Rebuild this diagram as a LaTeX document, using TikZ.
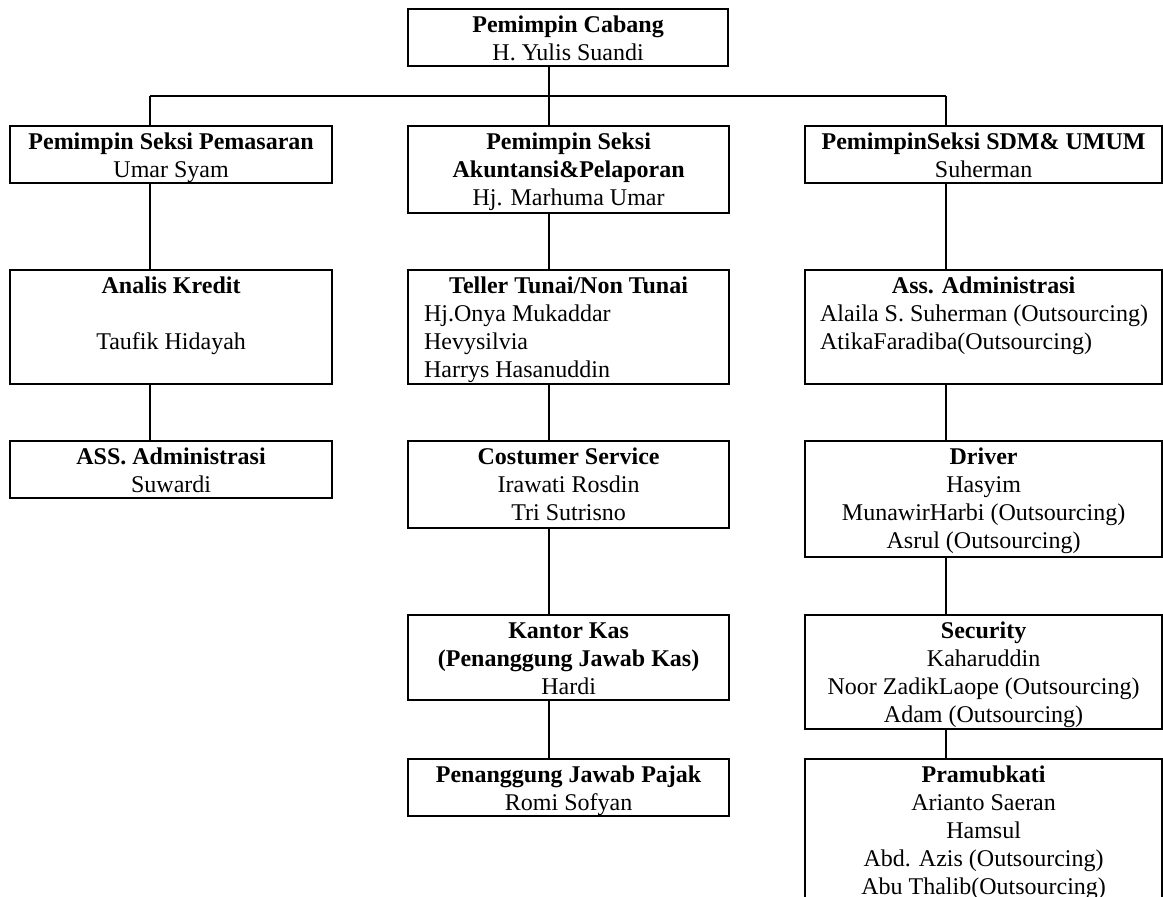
\documentclass[tikz,border=0pt]{standalone}
\usepackage{fontspec}
\setmainfont{Liberation Serif}
\newcommand{\cellbox}[3]{\parbox[c][#2][t]{#1}{\fontsize{24}{28}\selectfont\parindent=0pt\parskip=0pt\lineskiplimit=-20pt\centering\rule{0pt}{23.5pt}#3\par}}
\begin{document}
\begin{tikzpicture}[x=1pt,y=-1pt,
  orgbox/.style={draw, line width=2.2pt, inner sep=0pt, anchor=north west},
  link/.style={line width=2.2pt}]
\path[use as bounding box, clip] (0,0) rectangle (1163,897);
% top
\node[orgbox] (top) at (407,8) {\cellbox{320pt}{57pt}{\textbf{Pemimpin Cabang}\\H. Yulis Suandi}};
% left column
\node[orgbox] (L1) at (9,125) {\cellbox{322pt}{57pt}{\textbf{Pemimpin Seksi Pemasaran}\\Umar Syam}};
\node[orgbox] (L2) at (9,269) {\cellbox{322pt}{114pt}{\textbf{Analis Kredit}\\[28pt]Taufik Hidayah}};
\node[orgbox] (L3) at (9,440) {\cellbox{322pt}{57pt}{\textbf{ASS. Administrasi}\\Suwardi}};
% middle column
\node[orgbox] (M1) at (407,125) {\cellbox{321pt}{87pt}{\textbf{Pemimpin Seksi}\\\textbf{Akuntansi\&Pelaporan}\\Hj. Marhuma Umar}};
\node[orgbox] (M2) at (407,269) {\cellbox{321pt}{114pt}{\textbf{Teller Tunai/Non Tunai}\par\raggedright\leftskip=16pt Hj.Onya Mukaddar\par Hevysilvia\par Harrys Hasanuddin}};
\node[orgbox] (M3) at (407,440) {\cellbox{321pt}{87pt}{\textbf{Costumer Service}\\Irawati Rosdin\\Tri Sutrisno}};
\node[orgbox] (M4) at (407,614) {\cellbox{321pt}{85pt}{\textbf{Kantor Kas}\\\textbf{(Penanggung Jawab Kas)}\\Hardi}};
\node[orgbox] (M5) at (407,758) {\cellbox{321pt}{57pt}{\textbf{Penanggung Jawab Pajak}\\Romi Sofyan}};
% right column
\node[orgbox] (R1) at (804,125) {\cellbox{357pt}{57pt}{\textbf{PemimpinSeksi SDM\& UMUM}\\Suherman}};
\node[orgbox] (R2) at (804,269) {\cellbox{357pt}{114pt}{\textbf{Ass. Administrasi}\par\raggedright\leftskip=15pt Alaila S. Suherman (Outsourcing)\par AtikaFaradiba(Outsourcing)}};
\node[orgbox] (R3) at (804,440) {\cellbox{357pt}{116pt}{\textbf{Driver}\\Hasyim\\MunawirHarbi (Outsourcing)\\Asrul (Outsourcing)}};
\node[orgbox] (R4) at (804,614) {\cellbox{357pt}{114pt}{\textbf{Security}\\Kaharuddin\\Noor ZadikLaope (Outsourcing)\\Adam (Outsourcing)}};
\node[orgbox] (R5) at (804,758) {\cellbox{357pt}{160pt}{\textbf{Pramubkati}\\Arianto Saeran\\Hamsul\\Abd. Azis (Outsourcing)\\Abu Thalib(Outsourcing)}};
% bus
\coordinate (cL) at (150,96);
\coordinate (cM) at (549,96);
\coordinate (cR) at (946,96);
\draw[link] (top.south -| cM) -- (cM);
\draw[link] (cL) -- (cR);
\draw[link] (cL) -- (L1.north -| cL);
\draw[link] (cM) -- (M1.north -| cM);
\draw[link] (cR) -- (R1.north -| cR);
\draw[link] (L1.south -| cL) -- (L2.north -| cL);
\draw[link] (L2.south -| cL) -- (L3.north -| cL);
\draw[link] (M1.south -| cM) -- (M2.north -| cM);
\draw[link] (M2.south -| cM) -- (M3.north -| cM);
\draw[link] (M3.south -| cM) -- (M4.north -| cM);
\draw[link] (M4.south -| cM) -- (M5.north -| cM);
\draw[link] (R1.south -| cR) -- (R2.north -| cR);
\draw[link] (R2.south -| cR) -- (R3.north -| cR);
\draw[link] (R3.south -| cR) -- (R4.north -| cR);
\draw[link] (R4.south -| cR) -- (R5.north -| cR);
\end{tikzpicture}
\end{document}
